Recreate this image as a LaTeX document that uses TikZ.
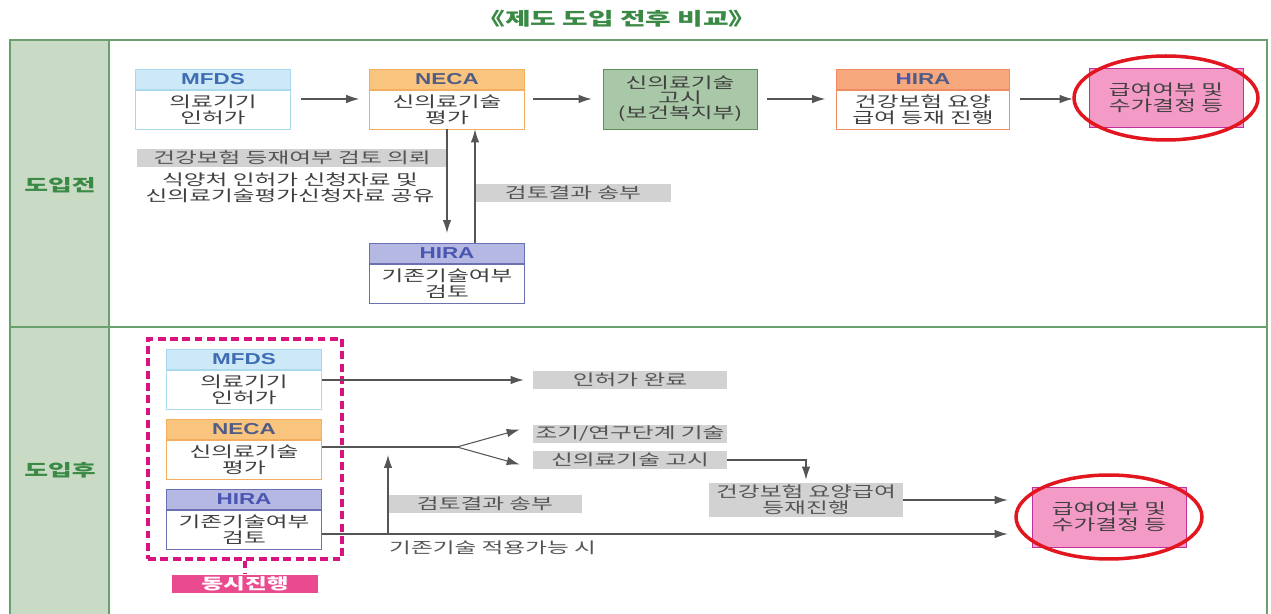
\documentclass[tikz,border=0pt]{standalone}
\usepackage{fontspec}
\setmainfont{Noto Sans CJK KR}[FakeStretch=1.55]
\newfontfamily\hdrfont{Liberation Sans}[FakeStretch=1.42]
\usetikzlibrary{arrows.meta,positioning}
\definecolor{framegreen}{HTML}{6A9F6E}
\definecolor{colgreen}{HTML}{C9DBC5}
\definecolor{titlegreen}{HTML}{3A8A45}
\definecolor{txtgray}{HTML}{404040}
\definecolor{linegray}{HTML}{555555}
\definecolor{tagfill}{HTML}{D2D2D2}
\definecolor{mfdsline}{HTML}{A9D9EF}
\definecolor{mfdsfill}{HTML}{CDE8F7}
\definecolor{mfdstxt}{HTML}{3F6DB4}
\definecolor{necaline}{HTML}{F3AE5E}
\definecolor{necafill}{HTML}{F9C47D}
\definecolor{necatxt}{HTML}{505C86}
\definecolor{insline}{HTML}{EE8C62}
\definecolor{insfill}{HTML}{F6A77B}
\definecolor{hiraline}{HTML}{6B70B2}
\definecolor{hirafill}{HTML}{B5B8E2}
\definecolor{hiratxt}{HTML}{4A57B2}
\definecolor{gosiline}{HTML}{5E8F5C}
\definecolor{gosifill}{HTML}{A9C8A7}
\definecolor{payline}{HTML}{C2309A}
\definecolor{payfill}{HTML}{F49AC6}
\definecolor{ringred}{HTML}{E2161F}
\definecolor{simpink}{HTML}{D8127E}
\definecolor{simfill}{HTML}{EA4A8E}

\begin{document}
\begin{tikzpicture}[x=0.02cm,y=-0.02cm,
  every node/.style={font=\fontsize{8.7}{9.2}\selectfont,text=txtgray},
  hdr/.style={minimum width=3.1cm,minimum height=0.4cm,inner sep=0pt,anchor=north,font=\hdrfont\fontsize{9}{9}\selectfont\bfseries},
  bdy/.style={draw,fill=white,minimum width=3.1cm,minimum height=0.78cm,inner sep=0pt,align=center,anchor=north},
  tag/.style={fill=tagfill,text=linegray,minimum width=3.88cm,minimum height=0.37cm,inner sep=0pt},
  arr/.style={-{Latex[length=2.6mm,width=1.7mm]},draw=linegray,line width=0.6pt},
  ring/.style={draw=ringred,line width=2pt}]
\useasboundingbox (0,0) rectangle (1271,614);
% frame
\fill[colgreen] (10,40) rectangle (109,614);
\draw[framegreen,line width=0.8pt] (10,614) -- (10,40) -- (1267,40) -- (1267,614) (109,40) -- (109,614) (10,327) -- (1267,327);
\node[font=\fontsize{10.2}{11}\selectfont\bfseries,text=titlegreen] (title) at (617,19) {《제도 도입 전후 비교》};
\node[font=\fontsize{9.5}{10}\selectfont\bfseries,text=titlegreen] (pre) at (60,185) {도입전};
\node[font=\fontsize{9.5}{10}\selectfont\bfseries,text=titlegreen] (post) at (60,470) {도입후};

% before
\node[hdr,draw=mfdsline,fill=mfdsfill,text=mfdstxt] (mfdsAh) at (213,69) {MFDS};
\node[bdy,draw=mfdsline] (mfdsA) at (mfdsAh.south) {의료기기\\인허가};
\node[hdr,draw=necaline,fill=necafill,text=necatxt] (necaAh) at (447,69) {NECA};
\node[bdy,draw=necaline] (necaA) at (necaAh.south) {신의료기술\\평가};
\node[draw=gosiline,fill=gosifill,minimum width=3.08cm,minimum height=1.2cm,align=center,inner sep=0pt,font=\fontsize{8.7}{8.6}\selectfont] (gosiA) at (680,99) {신의료기술\\고시\\(보건복지부)};
\node[hdr,draw=insline,fill=insfill,text=necatxt,minimum width=3.46cm] (insAh) at (923,69) {{\color{hiratxt}H}IRA};
\node[bdy,draw=insline,minimum width=3.46cm] (insA) at (insAh.south) {건강보험 요양\\급여 등재 진행};
\node[draw=payline,fill=payfill,minimum width=3.08cm,minimum height=1.18cm,align=center,inner sep=0pt] (payA) at (1166,98) {급여여부 및\\수가결정 등};
\draw[ring] (payA.center) ellipse [x radius=1.84cm,y radius=0.84cm];
\node[hdr,draw=hiraline,fill=hirafill,text=hiratxt] (hiraAh) at (447,243) {HIRA};
\node[bdy,draw=hiraline] (hiraA) at (hiraAh.south) {기존기술여부\\검토};
\node[tag,minimum width=6.22cm] (reqA) at (292,158) {건강보험 등재여부 검토 의뢰};
\node[align=center,font=\fontsize{8.7}{8.9}\selectfont] (shareA) at (290,188) {식양처 인허가 신청자료 및\\신의료기술평가신청자료 공유};
\node[tag,minimum width=3.92cm] (retA) at (573,193) {검토결과 송부};
\draw[arr,shorten <=0.2cm,shorten >=0.2cm] (mfdsA.east |- gosiA) -- (necaA.west |- gosiA);
\draw[arr,shorten <=0.16cm,shorten >=0.22cm] (necaA.east |- gosiA) -- (gosiA.west);
\draw[arr,shorten <=0.2cm,shorten >=0.22cm] (gosiA.east) -- (insA.west |- gosiA);
\draw[arr,shorten <=0.2cm,shorten >=0.32cm] (insA.east |- gosiA) -- (payA.west |- gosiA);
\draw[arr,shorten >=0.2cm] (necaA.south) -- (hiraAh.north);
\draw[arr] ([xshift=0.56cm]hiraAh.north) -- ([xshift=0.56cm]necaA.south);

% after
\node[draw=simpink,dash pattern=on 4.5pt off 2.5pt,line width=1.8pt,minimum width=3.88cm,minimum height=4.4cm] (sim) at (245,449) {};
\node[hdr,draw=mfdsline,fill=mfdsfill,text=mfdstxt] (mfdsBh) at (244,349) {MFDS};
\node[bdy,draw=mfdsline] (mfdsB) at (mfdsBh.south) {의료기기\\인허가};
\node[hdr,draw=necaline,fill=necafill,text=necatxt] (necaBh) at (244,419) {NECA};
\node[bdy,draw=necaline] (necaB) at (necaBh.south) {신의료기술\\평가};
\node[hdr,draw=hiraline,fill=hirafill,text=hiratxt] (hiraBh) at (244,489) {HIRA};
\node[bdy,draw=hiraline] (hiraB) at (hiraBh.south) {기존기술여부\\검토};
\node[fill=simfill,text=white,font=\fontsize{8.7}{8.7}\selectfont\bfseries,minimum width=2.94cm,minimum height=0.38cm,inner sep=0pt] (simtag) at (245,584) {동시진행};
\draw[simpink,line width=1.8pt,dash pattern=on 4.5pt off 2.5pt] (sim.south) -- (simtag.north);
\node[tag] (doneB) at (630,380) {인허가 완료};
\node[tag] (earlyB) at (630,434) {조기/연구단계 기술};
\node[tag] (newB) at (630,460) {신의료기술 고시};
\node[tag,minimum height=0.68cm,align=center] (insB) at (806,500) {건강보험 요양급여\\등재진행};
\node[tag] (retB) at (485,504) {검토결과 송부};
\node[anchor=west,text=linegray] (applyB) at (383,548) {기존기술 적용가능 시};
\node[draw=payline,fill=payfill,minimum width=3.08cm,minimum height=1.2cm,align=center,inner sep=0pt] (payB) at (1109,517) {급여여부 및\\수가결정 등};
\draw[ring] (payB.center) ellipse [x radius=1.86cm,y radius=0.84cm];
\coordinate (fork) at (457,447);
\coordinate (upB) at (388,534);
\coordinate (upT) at (388,455);
\draw[arr,shorten >=0.18cm] (mfdsB.east |- doneB.west) -- (doneB.west);
\draw[linegray,line width=0.6pt] (necaB.east |- fork) -- (fork);
\draw[arr] (fork) -- ([xshift=-0.26cm,yshift=0.09cm]earlyB.west);
\draw[arr] (fork) -- ([xshift=-0.26cm,yshift=-0.09cm]newB.west);
\draw[arr,shorten >=0.06cm] (newB.east) -| (insB.north);
\draw[arr,shorten >=0.48cm] (insB.east) -- (insB.east -| payB.west);
\draw[arr,shorten >=0.48cm] (hiraB.east |- upB) -- (upB -| payB.west);
\draw[arr] (upB) -- (upT);
\end{tikzpicture}
\end{document}
